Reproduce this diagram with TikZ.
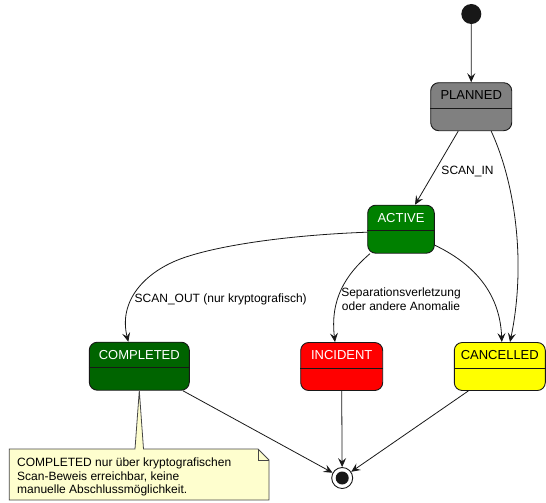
\documentclass[tikz,border=0pt]{standalone}
\usepackage{fontspec}
\setmainfont{Liberation Sans}
\usetikzlibrary{arrows.meta}

\definecolor{border}{HTML}{181818}
\definecolor{notefill}{HTML}{FEFECE}
\definecolor{planfill}{HTML}{808080}
\definecolor{actfill}{HTML}{008000}
\definecolor{donefill}{HTML}{006400}
\definecolor{incfill}{HTML}{FF0000}
\definecolor{cancfill}{HTML}{FFFF00}

\begin{document}
\begin{tikzpicture}[x=1pt, y=-1pt,
  state/.style={draw=border, line width=0.9pt, rounded corners=8pt,
    inner sep=0pt, minimum height=48pt},
  statename/.style={inner sep=0pt, font=\fontsize{13}{15}\selectfont},
  trans/.style={draw=border, line width=0.8pt,
    -{Stealth[length=9pt, width=8pt, inset=3.5pt]}},
  edgelabel/.style={inner sep=0pt, font=\fontsize{12}{13.7}\selectfont, align=center},
  pseudo/.style={circle, inner sep=0pt}
]
\useasboundingbox (0,0) rectangle (546,503);

% pseudo states
\node[pseudo, fill=border, minimum size=20pt] (init) at (471.3,14) {};
\node[pseudo, draw=border, fill=white, line width=0.9pt, minimum size=21pt] (final) at (342.2,478) {};
\node[pseudo, fill=border, minimum size=13pt] (finaldot) at (final.center) {};

% states
\node[state, fill=planfill, minimum width=81pt] (planned) at (471.2,106.7) {};
\node[state, fill=actfill, minimum width=66.6pt] (active) at (401,229.2) {};
\node[state, fill=donefill, minimum width=100pt] (completed) at (139.3,366.2) {};
\node[state, fill=incfill, minimum width=82pt] (incident) at (341.7,366.5) {};
\node[state, fill=cancfill, minimum width=91pt] (cancelled) at (499.8,366.5) {};

% header separators
\foreach \s in {planned,active,completed,incident,cancelled}
  \draw[border, line width=0.9pt] ([yshift=-1.7pt]\s.west) -- ([yshift=-1.7pt]\s.east);

% state names
\node[statename, text=black] (plannedname) at ([yshift=11.4pt]planned.center) {PLANNED};
\node[statename, text=white] (activename) at ([yshift=11.4pt]active.center) {ACTIVE};
\node[statename, text=white] (completedname) at ([yshift=11.4pt]completed.center) {COMPLETED};
\node[statename, text=white] (incidentname) at ([yshift=11.4pt]incident.center) {INCIDENT};
\node[statename, text=black] (cancelledname) at ([yshift=11.4pt]cancelled.center) {CANCELLED};

% transitions
\draw[trans] (init) -- (planned.north);
\draw[trans] ([xshift=-13pt]planned.south) -- ([xshift=14pt]active.north);
\draw[trans] ([xshift=20pt]planned.south)
  .. controls (516,185) and (526,265) .. ([xshift=10.2pt]cancelled.north);
\draw[trans] ([yshift=-3pt]active.west)
  .. controls (290,235) and (220,245) .. (183,258)
  .. controls (146,271) and (118,300) .. ([xshift=-11pt]completed.north);
\draw[trans] ([xshift=-31pt]active.south)
  .. controls (345,275) and (330,300) .. ([xshift=-6.7pt]incident.north);
\draw[trans] ([yshift=-16pt]active.east)
  .. controls (470,262) and (500,290) .. ([xshift=2pt]cancelled.north);
\draw[trans] (completed.south east) ++(-7pt,0) -- (final);
\draw[trans] (incident.south) -- (final);
\draw[trans] ([xshift=-31.5pt]cancelled.south) -- (final);

% transition labels
\node[edgelabel, anchor=base] (lscanin) at (467.5,174.3) {SCAN\_IN};
\node[edgelabel, anchor=base] (lscanout) at (220.7,302.6) {SCAN\_OUT (nur kryptografisch)};
\node[edgelabel, anchor=north] (lanomaly) at (401,287.9)
  {Separationsverletzung\\oder andere Anomalie};

% note attached to COMPLETED
\coordinate (notetip) at (completed.south);
\draw[draw=border!80, fill=notefill, line width=0.8pt]
  (9.3,449) -- (135,449) -- (notetip) -- (143.5,449) -- (258,449)
  -- (269,460) -- (269,500) -- (9.3,500) -- cycle;
\draw[draw=border!80, line width=0.8pt] (258,449) -- (258,460) -- (269,460);
\node[inner sep=0pt, anchor=north west, align=left,
  font=\fontsize{12}{13.6}\selectfont] (notetext) at (17,457.5)
  {COMPLETED nur über kryptografischen\\Scan-Beweis erreichbar, keine\\manuelle Abschlussmöglichkeit.};
\end{tikzpicture}
\end{document}
